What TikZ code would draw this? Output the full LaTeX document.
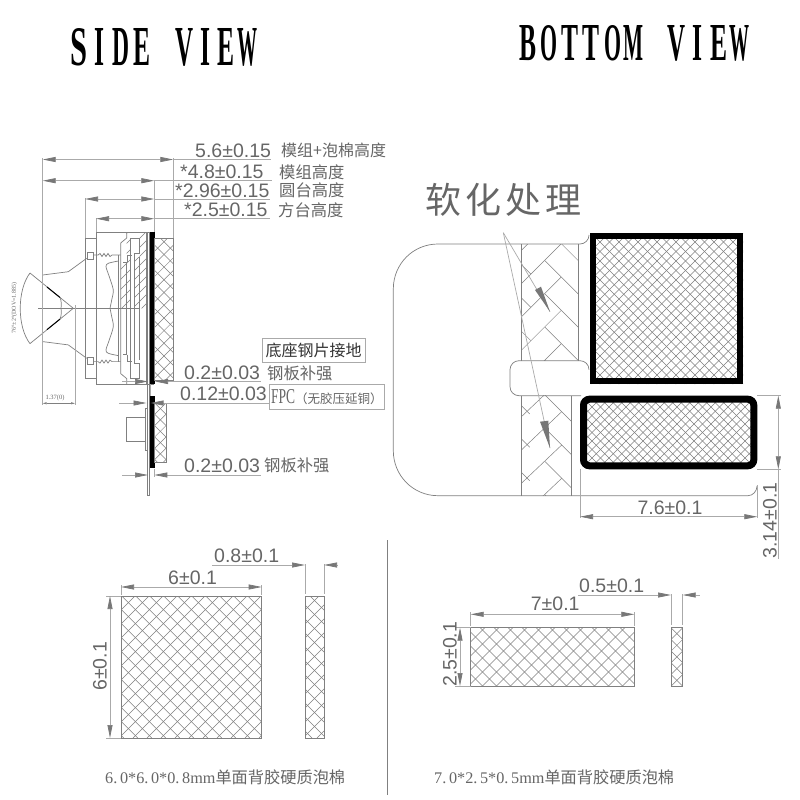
\documentclass[tikz,border=0pt]{standalone}
\usepackage{fontspec}
\usepackage{graphicx}
\setmainfont{Liberation Sans}
\newfontfamily\cjkfont{Noto Sans CJK SC}
\newfontfamily\serifnarrow{Liberation Serif}
\usetikzlibrary{arrows.meta}
\definecolor{txtg}{HTML}{666666}
\definecolor{dimg}{HTML}{AAAAAA}
\definecolor{arrg}{HTML}{777777}
\definecolor{outg}{HTML}{808080}
\tikzset{
  outl/.style={draw=outg,line width=0.7pt},
  hatchline/.style={draw=outg,line width=0.5pt},
  dimline/.style={draw=dimg,line width=0.7pt},
  extline/.style={draw=dimg,line width=0.7pt},
  tipa/.style={arrows={Triangle[length=13pt,width=5pt,color=arrg]-Triangle[length=13pt,width=5pt,color=arrg]}},
  tips/.style={arrows={Triangle[length=13pt,width=5pt,color=arrg]-}},
  dimtext/.style={anchor=base west,inner sep=0pt,text=txtg,font=\fontsize{19.5}{20}\selectfont},
  cjktext/.style={anchor=west,inner sep=0pt,text=txtg,font=\fontsize{16.3}{18}\cjkfont},
  framebox/.style={draw=dimg,line width=0.8pt,fill=white},
  titletext/.style={anchor=north west,inner sep=0pt,text=black,font=\serifnarrow\bfseries},
  blackframe/.style={draw=black}
}
% one title letter in a fixed pitch
\newcommand{\tch}[4]{\makebox[#1pt][c]{\resizebox{#2pt}{#3pt}{#4}}}
\newcommand{\xhatchbox}[5]{%
  \begin{scope}
    \clip (#1,#2) rectangle (#3,#4);
    \pgfmathsetmacro\myw{#3-#1}
    \pgfmathsetmacro\myh{#4-#2}
    \pgfmathtruncatemacro\myn{(\myw+\myh)/#5+1}
    \foreach \k in {0,...,\myn}{
      \pgfmathsetmacro\myxa{#1+\k*#5}
      \pgfmathsetmacro\myxb{#3-\k*#5}
      \draw[hatchline] (\myxa,#2) -- ++(-\myh,\myh);
      \draw[hatchline] (\myxb,#2) -- ++(\myh,\myh);
    }
  \end{scope}}
\newcommand{\halfbody}{%
  \draw[outl] (85,308.3) -- (85,238.3) -- (96,238.3);
  \draw[outl] (96,308.3) -- (96,232.3) -- (154,232.3);
  % barrel profile
  \draw[outl] (42.7,275) -- (68.3,271.7) -- (86.7,258.3);
  \draw[outl] (87.7,252.7) rectangle (93,259);
  \draw[outl] (93,255) -- (98,255) -- (100,253.5) -- (102,256.5) -- (104,253.5) -- (106,256.5) -- (108,253.5) -- (110,256.5) -- (112,255) -- (120.7,255);
  % apex lines and arc
  \draw[outl] (73.3,308.3) -- (30,273);
  \draw[draw=black,line width=1pt] (47,287) -- (60,297.5);
  \draw[outl] (60,297.5) .. controls (61.5,301) and (61.5,305) .. (61,308.3);
  % wave
  \draw[outl] plot[smooth] coordinates {(118.3,261) (108.3,263.3) (106,266.7) (109.3,276.7) (113.3,290) (111.7,300) (110,308.3)};
  % inner verticals
  \draw[outl] (118.3,308.3) -- (118.3,255);
  \draw[outl] (120.7,308.3) -- (120.7,243) -- (126.7,238) -- (126.7,232.3);
  \draw[outl] (126.7,308.3) -- (126.7,262) -- (122.7,262);
  \draw[outl] (130,308.3) -- (130,238.3) -- (139.3,238.3) -- (139.3,253.3) -- (134,253.3) -- (134,308.3);
  \draw[outl] (139.3,232.3) -- (146.7,232.3) -- (146.7,308.3);
  \draw[outl] (127,262) -- (127,255) -- (132,255);
  \draw[outl] (139.3,308.3) -- (139.3,257);
}
\begin{document}
\begin{tikzpicture}[x=1pt,y=-1pt]
\useasboundingbox (0,0) rectangle (800,800);
\fill[white] (0,0) rectangle (800,800);
% titles
\node[titletext] (sideview) at (68,28) {\tch{21.1}{17}{37}{S}\tch{21.1}{10}{37}{I}\tch{21.1}{17}{37}{D}\tch{21.1}{17}{37}{E}\makebox[21.1pt]{}\tch{21.1}{18}{37}{V}\tch{21.1}{10}{37}{I}\tch{21.1}{17}{37}{E}\tch{21.1}{20}{37}{W}};
\node[titletext] (bottomview) at (517,25) {\tch{21.2}{17}{35}{B}\tch{21.2}{17}{35}{O}\tch{21.2}{17}{35}{T}\tch{21.2}{17}{35}{T}\tch{21.2}{17}{35}{O}\tch{21.2}{20}{35}{M}\makebox[21.2pt]{}\tch{21.2}{18}{35}{V}\tch{21.2}{10}{35}{I}\tch{21.2}{17}{35}{E}\tch{21.2}{20}{35}{W}};
% ---------- side view body
\halfbody
\begin{scope}[shift={(0,616.6)},yscale=-1]
\halfbody
\end{scope}
% section hatching (upper half only)
\begin{scope}
  \clip (139.3,232.3) -- (146.7,232.3) -- (146.7,308.3) -- (134,308.3) -- (134,257) -- (139.3,257) -- cycle;
  \foreach \k in {0,...,12}{\draw[hatchline] (120,{240+\k*9}) -- ++(30,-30);}
\end{scope}
\begin{scope}
  \clip (126.7,232.3) -- (130,232.3) -- (130,308.3) -- (120.7,308.3) -- (120.7,262) -- (126.7,262) -- cycle;
  \foreach \k in {0,...,12}{\draw[hatchline] (115,{245+\k*10}) -- ++(30,-30);}
\end{scope}
\draw[outl] (38,308.3) -- (140,308.3);
\draw[outl] (30,273) .. controls (17,290) and (17,327) .. (30,343.6);
% FPC and steel
\draw[outl] (146.9,232.3) -- (146.9,495) -- (149.8,495) -- (149.8,232.3);
\fill[black] (150,232.3) rectangle (154.7,384);
\fill[black] (150,396) rectangle (154.7,468.3);
% foam side
\xhatchbox{154.7}{238.3}{173.3}{380}{12.7}
\draw[outl] (154.7,238.3) rectangle (173.3,380);
\xhatchbox{154.7}{403}{166}{462}{11.3}
\draw[outl] (154.7,403) rectangle (166,462);
% connector
\draw[outl] (126.7,417) rectangle (145,441.7);
\draw[outl] (145,408) rectangle (147,450);
% side view dimensions
\draw[extline] (42.7,158) -- (42.7,405);
\draw[extline] (75,305) -- (75,405);
\draw[extline] (173.3,158) -- (173.3,238);
\draw[extline] (154.3,180) -- (154.3,232);
\draw[extline] (85,198) -- (85,238);
\draw[extline] (96,218) -- (96,232);
\draw[dimline,tipa] (42.7,159.5) -- (173.3,159.5);
\draw[dimline] (173.3,159.5) -- (271,159.5);
\draw[dimline,tipa] (42.7,180.7) -- (154.3,180.7);
\draw[dimline] (154.3,180.7) -- (272,180.7);
\draw[dimline,tipa] (85,199) -- (154.3,199);
\draw[dimline] (154.3,199) -- (270,199);
\draw[dimline,tipa] (96,218.7) -- (154.3,218.7);
\draw[dimline] (154.3,218.7) -- (270,218.7);
\draw[draw=outg,line width=0.5pt,arrows={Triangle[length=4pt,width=2pt]-Triangle[length=4pt,width=2pt]}] (42.7,403.3) -- (75,403.3);
\node[anchor=center,inner sep=0pt,text=txtg,font=\serifnarrow\fontsize{6.5}{7}\selectfont] (d137) at (55,398) {1.37(0)};
\node[rotate=90,anchor=center,inner sep=0pt,text=txtg,font=\serifnarrow\fontsize{6}{7}\selectfont] (d76) at (14.5,308) {76°±2°(DOV=1.885)};
\node[dimtext] (t56) at (195,157) {5.6±0.15};
\node[dimtext] (t48) at (180,178) {*4.8±0.15};
\node[dimtext] (t296) at (175,197) {*2.96±0.15};
\node[dimtext] (t25) at (184,216) {*2.5±0.15};
\node[cjktext,font=\fontsize{16}{18}\cjkfont] (c1) at (281,150) {模组+泡棉高度};
\node[cjktext] (c2) at (279,172) {模组高度};
\node[cjktext] (c3) at (279,190) {圆台高度};
\node[cjktext] (c4) at (278,210) {方台高度};
% lower dims side
\draw[dimline,tips] (148,381.5) -- (122,381.5);
\draw[dimline,tips] (155,381.5) -- (261,381.5);
\draw[dimline,tips] (146.5,403) -- (119,403);
\draw[dimline,tips] (150.5,403) -- (270,403);
\draw[dimline,tips] (148,475) -- (122,475);
\draw[dimline,tips] (154.3,475) -- (261,475);
\draw[extline] (154.3,468.5) -- (154.3,477);
\draw[extline] (150,384) -- (150,396);
\node[dimtext] (t02a) at (184,379) {0.2±0.03};
\node[dimtext] (t012) at (180,400.7) {0.12±0.03};
\node[dimtext] (t02b) at (184,472.7) {0.2±0.03};
\node[framebox,minimum width=103pt,minimum height=24pt,anchor=north west,inner sep=0pt] (bx1) at (261.7,338) {\fontsize{16}{18}\cjkfont\color{black!80}底座钢片接地};
\node[cjktext] (c5) at (267,373) {钢板补强};
\node[framebox,minimum width=115pt,minimum height=25pt,anchor=north west,inner sep=0pt,text=txtg] (bx2) at (269,384) {\resizebox{24pt}{14pt}{\serifnarrow FPC}{\fontsize{12.5}{14}\cjkfont （无胶压延铜）}};
\node[cjktext] (c6) at (264,465) {钢板补强};
% ---------- bottom view outline
\draw[outl] (393.3,289) .. controls (393.3,264) and (413,244) .. (438,244) -- (580,244) .. controls (585,244) and (589,240) .. (589,235);
\draw[outl] (393.3,289) -- (393.3,450.7) .. controls (393.3,475.5) and (413,495.7) .. (438,495.7) -- (748,495.7) .. controls (753,495.7) and (757,491) .. (757,486);
\draw[outl] (521.7,244) -- (521.7,360.7);
\draw[outl] (578.3,244) -- (578.3,360.7);
\draw[outl] (521.7,395.7) -- (521.7,495.7);
\draw[outl] (571.3,395.7) -- (571.3,495.7);
% notch
\draw[outl] (589,369.7) .. controls (589,364.7) and (585,360.7) .. (580,360.7) -- (519,360.7) .. controls (514,360.7) and (510,364.7) .. (510,369.7) -- (510,386.7) .. controls (510,391.7) and (514,395.7) .. (519,395.7) -- (581,395.7);
% herringbone upper
\begin{scope}
  \clip (521.7,244) rectangle (578.3,360.7);
  \foreach \k in {-1,...,4}{
    \draw[hatchline] (561,{244+33.3*\k}) -- ++(-39.3,39.3);
    \draw[hatchline] (545,{260.7+33.3*\k}) -- ++(33.3,33.3);
    \draw[hatchline] (521.7,{265+33.3*\k}) -- ++(9,9);
  }
\end{scope}
\begin{scope}
  \clip (521.7,395.7) rectangle (571.3,495.7);
  \foreach \k in {-2,...,3}{
    \draw[hatchline] (561.7,{411.7+33.3*\k}) -- ++(-40,38);
    \draw[hatchline] (545,{428.3+33.3*\k}) -- ++(33.3,33.3);
    \draw[hatchline] (521.7,{406+33.3*\k}) -- ++(8,8);
  }
\end{scope}
% foam in frames
\xhatchbox{590}{233}{743}{384}{9.5}
\draw[blackframe,line width=6.5pt] (593.2,235.8) rectangle (739.8,380.8);
\xhatchbox{583}{399}{754}{466}{8.5}
\draw[blackframe,line width=7pt,rounded corners=6pt] (583.5,399.2) rectangle (753.8,465.8);
% pointer arrows
\coordinate (ptr) at (503.3,232.7);
\draw[dimline] (ptr) -- (550,311.7);
\draw[dimline] (ptr) -- (550,448);
\fill[arrg] (535,290) -- (541,286.7) -- (550,311.7) -- cycle;
\fill[arrg] (540,421.7) -- (548.3,420.7) -- (550,448) -- cycle;
\node[anchor=center,inner sep=0pt,text=txtg,font=\fontsize{36}{38}\cjkfont] (soft) at (503.7,199.5) {软\hspace{4pt}化\hspace{4pt}处\hspace{4pt}理};
% bottom view dims
\draw[extline] (580,469) -- (580,518);
\draw[extline] (757.3,485) -- (757.3,518);
\draw[dimline,tipa] (580,516.7) -- (757.3,516.7);
\node[dimtext] (t76) at (637.3,514) {7.6±0.1};
\draw[extline] (757,395.7) -- (781,395.7);
\draw[extline] (757,469.3) -- (781,469.3);
\draw[dimline,tipa] (778.3,395.7) -- (778.3,469.3);
\draw[dimline] (778.3,469.3) -- (778.3,559);
\node[dimtext,rotate=90] (t314) at (776.7,558.5) {3.14±0.1};
% divider
\draw[draw=outg,line width=0.9pt] (387,540) -- (387,795);
% ---------- left foam parts
\xhatchbox{121}{596}{261.7}{738}{14}
\draw[outl] (121,596) rectangle (261.7,738);
\xhatchbox{305}{596}{324}{738}{14}
\draw[outl] (305,596) rectangle (324,738);
\draw[extline] (121,585) -- (121,595);
\draw[extline] (261.7,585) -- (261.7,595);
\draw[dimline,tipa] (121,587) -- (261.7,587);
\node[dimtext] (t6a) at (168,584.3) {6±0.1};
\draw[extline] (305,564) -- (305,594);
\draw[extline] (324,564) -- (324,594);
\draw[dimline,tips] (305,565) -- (211.7,565);
\draw[dimline,tips] (324,565) -- (338,565);
\node[dimtext] (t08) at (214,562.7) {0.8±0.1};
\draw[extline] (106,596) -- (121,596);
\draw[extline] (106,738) -- (121,738);
\draw[dimline,tipa] (110,596) -- (110,738);
\node[dimtext,rotate=90] (t6b) at (106.7,691) {6±0.1};
% ---------- right foam parts
\xhatchbox{470.7}{627.7}{634.3}{686}{14}
\draw[outl] (470.7,627.7) rectangle (634.3,686);
\xhatchbox{671}{627.7}{682.7}{686}{11.7}
\draw[outl] (671,627.7) rectangle (682.7,686);
\draw[extline] (470.7,612) -- (470.7,626);
\draw[extline] (634.3,612) -- (634.3,626);
\draw[dimline,tipa] (470.7,614.3) -- (634.3,614.3);
\node[dimtext] (t7) at (530.7,610.7) {7±0.1};
\draw[extline] (671,594) -- (671,625);
\draw[extline] (682.7,594) -- (682.7,625);
\draw[dimline,tips] (671,595) -- (577.7,595);
\draw[dimline,tips] (682.7,595) -- (700,595);
\node[dimtext] (t05) at (579,592.7) {0.5±0.1};
\draw[extline] (455,627.7) -- (470.7,627.7);
\draw[extline] (455,686) -- (470.7,686);
\draw[dimline,tipa] (460,627.7) -- (460,686);
\node[dimtext,rotate=90] (t25b) at (456.5,687) {2.5±0.1};
% captions
\node[anchor=west,inner sep=0pt,text=txtg] (cap1) at (105,777) {\resizebox{240pt}{!}{\fontsize{16}{18}\serifnarrow 6.\,0*6.\,0*0.\,8mm\cjkfont 单面背胶硬质泡棉}};
\node[anchor=west,inner sep=0pt,text=txtg] (cap2) at (434,777) {\resizebox{240pt}{!}{\fontsize{16}{18}\serifnarrow 7.\,0*2.\,5*0.\,5mm\cjkfont 单面背胶硬质泡棉}};
\end{tikzpicture}
\end{document}
